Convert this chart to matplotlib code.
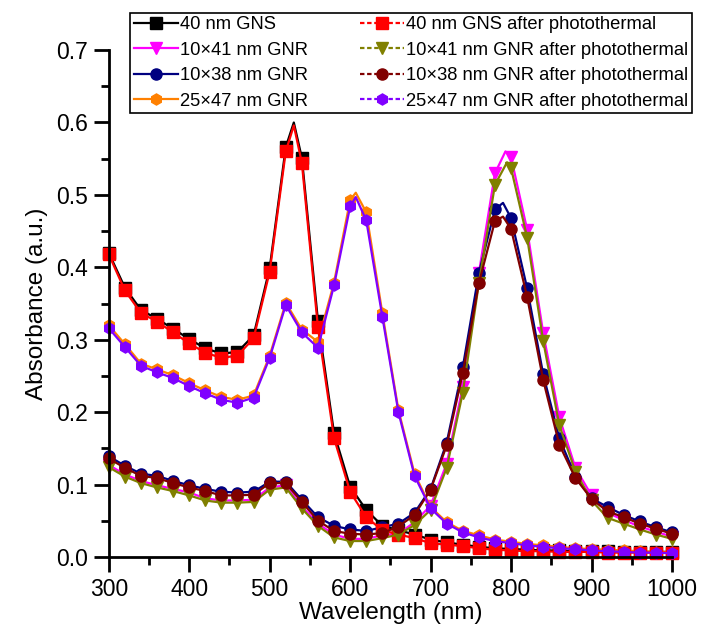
import matplotlib
matplotlib.use('Agg')
import matplotlib.pyplot as plt
import numpy as np
from matplotlib.lines import Line2D
from matplotlib.ticker import MultipleLocator, FormatStrFormatter

plt.rcParams['font.family'] = ['Liberation Sans', 'DejaVu Sans']

wl = [300, 320, 340, 360, 380, 400, 420, 440, 460, 480, 500, 520, 540, 560, 580, 600, 620, 640,
      660, 680, 700, 720, 740, 760, 780, 800, 820, 840, 860, 880, 900, 920, 940, 960, 980, 1000]

gns = [0.420, 0.372, 0.341, 0.329, 0.315, 0.301, 0.288, 0.281, 0.283, 0.306, 0.399, 0.566, 0.551, 0.326,
       0.171, 0.097, 0.065, 0.043, 0.037, 0.031, 0.024, 0.020, 0.017, 0.014, 0.012, 0.011, 0.010, 0.009,
       0.009, 0.008, 0.008, 0.008, 0.007, 0.007, 0.007, 0.007]
gns_pt = [0.418, 0.368, 0.337, 0.325, 0.310, 0.295, 0.282, 0.275, 0.278, 0.302, 0.394, 0.560, 0.544, 0.317,
          0.164, 0.090, 0.055, 0.037, 0.031, 0.026, 0.019, 0.017, 0.015, 0.012, 0.010, 0.009, 0.008, 0.008,
          0.007, 0.007, 0.007, 0.006, 0.006, 0.006, 0.006, 0.006]
gnr41 = [0.127, 0.114, 0.105, 0.099, 0.094, 0.089, 0.081, 0.078, 0.078, 0.079, 0.096, 0.099, 0.070, 0.046,
         0.031, 0.025, 0.025, 0.030, 0.032, 0.048, 0.071, 0.129, 0.235, 0.392, 0.530, 0.552, 0.452, 0.309,
         0.193, 0.123, 0.085, 0.061, 0.051, 0.042, 0.035, 0.028]
gnr41_pt = [0.124, 0.111, 0.102, 0.096, 0.091, 0.085, 0.078, 0.075, 0.075, 0.076, 0.093, 0.096, 0.067, 0.043,
            0.027, 0.022, 0.022, 0.026, 0.031, 0.044, 0.065, 0.123, 0.227, 0.378, 0.514, 0.537, 0.441, 0.298,
            0.182, 0.118, 0.078, 0.054, 0.046, 0.038, 0.031, 0.025]
gnr38 = [0.139, 0.126, 0.115, 0.112, 0.105, 0.099, 0.094, 0.090, 0.089, 0.090, 0.104, 0.104, 0.079, 0.055,
         0.043, 0.038, 0.036, 0.041, 0.046, 0.061, 0.094, 0.158, 0.262, 0.392, 0.480, 0.468, 0.371, 0.252,
         0.164, 0.111, 0.081, 0.069, 0.058, 0.049, 0.041, 0.034]
gnr38_pt = [0.136, 0.123, 0.112, 0.109, 0.102, 0.096, 0.091, 0.085, 0.085, 0.086, 0.102, 0.102, 0.076, 0.050,
            0.036, 0.032, 0.031, 0.033, 0.042, 0.058, 0.093, 0.154, 0.254, 0.378, 0.464, 0.453, 0.359, 0.244,
            0.155, 0.109, 0.080, 0.063, 0.055, 0.046, 0.039, 0.032]
gnr47 = [0.320, 0.294, 0.267, 0.259, 0.251, 0.240, 0.230, 0.221, 0.217, 0.223, 0.278, 0.351, 0.314, 0.297,
         0.379, 0.493, 0.476, 0.337, 0.203, 0.115, 0.069, 0.048, 0.036, 0.030, 0.024, 0.021, 0.018, 0.016,
         0.014, 0.012, 0.011, 0.010, 0.009, 0.008, 0.007, 0.007]
gnr47_pt = [0.316, 0.290, 0.264, 0.255, 0.247, 0.236, 0.226, 0.217, 0.213, 0.220, 0.275, 0.348, 0.310, 0.289,
            0.375, 0.484, 0.465, 0.332, 0.200, 0.112, 0.067, 0.046, 0.034, 0.027, 0.022, 0.019, 0.016, 0.014,
            0.012, 0.011, 0.009, 0.008, 0.007, 0.006, 0.006, 0.005]

# peak maxima read between markers (wavelength, absorbance)
peaks = {
    'gns': (530, 0.600), 'gns_pt': (530, 0.596),
    'gnr41': (793, 0.560), 'gnr41_pt': (795, 0.545),
    'gnr38': (790, 0.489), 'gnr38_pt': (790, 0.470),
    'gnr47': (607, 0.503), 'gnr47_pt': (607, 0.497),
}

series = [
    ('gns', gns, '40 nm GNS', 'black', 's', '-'),
    ('gnr41', gnr41, '10×41 nm GNR', '#FF00FF', 'v', '-'),
    ('gnr38', gnr38, '10×38 nm GNR', '#000080', 'o', '-'),
    ('gnr47', gnr47, '25×47 nm GNR', '#FF8000', 'h', '-'),
    ('gns_pt', gns_pt, '40 nm GNS after photothermal', '#FF0000', 's', '--'),
    ('gnr41_pt', gnr41_pt, '10×41 nm GNR after photothermal', '#808000', 'v', '--'),
    ('gnr38_pt', gnr38_pt, '10×38 nm GNR after photothermal', '#800000', 'o', '--'),
    ('gnr47_pt', gnr47_pt, '25×47 nm GNR after photothermal', '#8000FF', 'h', '--'),
]

fig = plt.figure(figsize=(7.04, 6.34), dpi=100)
ax = fig.add_axes([0.1545, 0.1215, 0.8, 0.7995])

handles = []
for key, y, label, color, mk, ls in series:
    px, py = peaks[key]
    x_all = np.array(wl + [px])
    y_all = np.array(y + [py])
    order = np.argsort(x_all, kind='stable')
    x_all, y_all = x_all[order], y_all[order]
    mark_idx = [i for i, v in enumerate(order) if v < len(wl)]
    ax.plot(x_all, y_all, color=color, lw=1.6, marker=mk, ms=8, markevery=mark_idx,
            clip_on=False)
    handles.append(Line2D([], [], color=color, lw=1.6, marker=mk, ms=8,
                          ls='-' if ls == '-' else (0, (2.0, 1.2))))

ax.set_xlim(300, 1000)
ax.set_ylim(0, 0.7)
ax.xaxis.set_major_locator(MultipleLocator(100))
ax.xaxis.set_minor_locator(MultipleLocator(50))
ax.yaxis.set_major_locator(MultipleLocator(0.1))
ax.yaxis.set_minor_locator(MultipleLocator(0.05))
ax.yaxis.set_major_formatter(FormatStrFormatter('%.1f'))

for s in ['top', 'right']:
    ax.spines[s].set_visible(False)
for s in ['left', 'bottom']:
    ax.spines[s].set_linewidth(2)

ax.tick_params(which='major', direction='out', length=11, width=2, labelsize=16.5, pad=4)
ax.tick_params(which='minor', direction='out', length=6, width=2)

ax.set_xlabel('Wavelength (nm)', fontsize=17.5, labelpad=1)
ax.set_ylabel('Absorbance (a.u.)', fontsize=17.5, labelpad=6)

leg = ax.legend(handles, [s[2] for s in series], ncol=2, loc='upper left',
                bbox_to_anchor=(130 / 704, 1 - 12.7 / 634), bbox_transform=fig.transFigure,
                fontsize=13.2, frameon=True, fancybox=False, framealpha=1, edgecolor='black',
                borderaxespad=0, handlelength=2.4, handletextpad=0.15, labelspacing=0.46,
                columnspacing=2.8, borderpad=0.2)
leg.get_frame().set_linewidth(1.2)

fig.savefig('out.png', dpi=100)
